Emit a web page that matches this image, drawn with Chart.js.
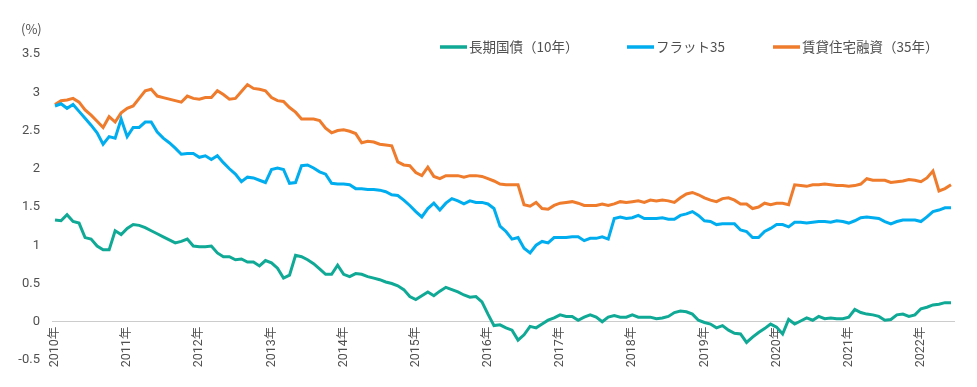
<!DOCTYPE html>
<html lang="ja">
<head>
<meta charset="utf-8">
<script src="https://cdn.jsdelivr.net/npm/chart.js@4.4.1/dist/chart.umd.min.js"></script>
<style>
  html, body { margin: 0; padding: 0; background: #fff; }
  #wrap { width: 977px; height: 387px; position: relative; }
</style>
</head>
<body>
<div id="wrap"><canvas id="myChart"></canvas></div>
<script>
(function () {
    'use strict';

    // ── Data (monthly, Jan 2010 – Jun 2022) ───────────────────────────────────
    const YEARS = ['2010', '2011', '2012', '2013', '2014', '2015', '2016',
                   '2017', '2018', '2019', '2020', '2021', '2022'];
    const YEAR_LABELS = YEARS.map(y => y + '年');
    const N_MONTHS = 150;

    const SERIES_NAMES = ['長期国債（10年）', 'フラット35', '賃貸住宅融資（35年）'];

    const jgb10 = [
        1.33, 1.32, 1.40, 1.31, 1.29, 1.10, 1.08, 0.99, 0.94, 0.94, 1.19, 1.14,
        1.22, 1.27, 1.26, 1.23, 1.19, 1.15, 1.11, 1.07, 1.03, 1.05, 1.08, 0.99,
        0.98, 0.98, 0.99, 0.90, 0.85, 0.85, 0.81, 0.82, 0.78, 0.78, 0.73, 0.80,
        0.77, 0.70, 0.57, 0.61, 0.87, 0.85, 0.81, 0.76, 0.69, 0.62, 0.62, 0.74,
        0.62, 0.59, 0.63, 0.62, 0.59, 0.57, 0.55, 0.52, 0.50, 0.47, 0.42, 0.33,
        0.29, 0.34, 0.39, 0.34, 0.40, 0.45, 0.42, 0.39, 0.35, 0.32, 0.33, 0.26,
        0.10, -0.05, -0.04, -0.08, -0.11, -0.24, -0.17, -0.06, -0.08, -0.03, 0.02, 0.05,
        0.09, 0.07, 0.07, 0.02, 0.06, 0.09, 0.06, 0.00, 0.06, 0.08, 0.06, 0.06,
        0.09, 0.06, 0.06, 0.06, 0.04, 0.05, 0.07, 0.12, 0.14, 0.13, 0.10, 0.02,
        -0.01, -0.03, -0.08, -0.05, -0.11, -0.15, -0.16, -0.27, -0.20, -0.14, -0.09, -0.03,
        -0.07, -0.16, 0.03, -0.03, 0.01, 0.05, 0.02, 0.07, 0.04, 0.05, 0.04, 0.04,
        0.06, 0.16, 0.12, 0.10, 0.09, 0.07, 0.02, 0.03, 0.09, 0.10, 0.07, 0.09,
        0.17, 0.19, 0.22, 0.23, 0.25, 0.25
    ];

    const flat35 = [
        2.82, 2.85, 2.79, 2.84, 2.75, 2.66, 2.57, 2.47, 2.32, 2.42, 2.40, 2.65,
        2.42, 2.54, 2.54, 2.61, 2.61, 2.48, 2.40, 2.34, 2.27, 2.19, 2.20, 2.20,
        2.15, 2.17, 2.12, 2.17, 2.08, 2.00, 1.93, 1.83, 1.89, 1.88, 1.85, 1.82,
        1.99, 2.01, 1.99, 1.81, 1.82, 2.04, 2.05, 2.01, 1.96, 1.93, 1.81, 1.80,
        1.80, 1.79, 1.74, 1.74, 1.73, 1.73, 1.72, 1.70, 1.66, 1.65, 1.59, 1.52,
        1.44, 1.37, 1.48, 1.55, 1.46, 1.55, 1.61, 1.58, 1.54, 1.58, 1.56, 1.56,
        1.54, 1.48, 1.25, 1.18, 1.08, 1.10, 0.96, 0.90, 1.00, 1.05, 1.03, 1.10,
        1.10, 1.10, 1.11, 1.11, 1.06, 1.09, 1.09, 1.11, 1.08, 1.35, 1.37, 1.35,
        1.36, 1.39, 1.35, 1.35, 1.35, 1.36, 1.34, 1.34, 1.39, 1.41, 1.44, 1.39,
        1.32, 1.31, 1.27, 1.28, 1.28, 1.28, 1.20, 1.18, 1.10, 1.10, 1.18, 1.22,
        1.27, 1.27, 1.24, 1.30, 1.30, 1.29, 1.30, 1.31, 1.31, 1.30, 1.32, 1.31,
        1.29, 1.32, 1.36, 1.37, 1.36, 1.35, 1.31, 1.28, 1.31, 1.33, 1.33, 1.33,
        1.31, 1.37, 1.44, 1.46, 1.49, 1.49
    ];

    const rental35 = [
        2.84, 2.89, 2.90, 2.92, 2.87, 2.77, 2.70, 2.62, 2.54, 2.68, 2.61, 2.73,
        2.79, 2.82, 2.92, 3.02, 3.04, 2.95, 2.93, 2.91, 2.89, 2.87, 2.95, 2.92,
        2.91, 2.93, 2.93, 3.02, 2.97, 2.91, 2.92, 3.01, 3.10, 3.05, 3.04, 3.02,
        2.93, 2.89, 2.88, 2.80, 2.74, 2.65, 2.65, 2.65, 2.63, 2.53, 2.47, 2.50,
        2.51, 2.49, 2.46, 2.34, 2.36, 2.35, 2.32, 2.31, 2.30, 2.09, 2.05, 2.04,
        1.95, 1.91, 2.02, 1.90, 1.87, 1.91, 1.91, 1.91, 1.89, 1.91, 1.91, 1.90,
        1.87, 1.84, 1.80, 1.79, 1.79, 1.79, 1.53, 1.51, 1.56, 1.48, 1.47, 1.52,
        1.55, 1.56, 1.57, 1.55, 1.52, 1.52, 1.52, 1.54, 1.52, 1.54, 1.57, 1.56,
        1.57, 1.58, 1.56, 1.59, 1.58, 1.59, 1.58, 1.56, 1.62, 1.67, 1.69, 1.66,
        1.62, 1.59, 1.57, 1.61, 1.62, 1.59, 1.54, 1.54, 1.48, 1.50, 1.55, 1.53,
        1.55, 1.55, 1.53, 1.79, 1.78, 1.77, 1.79, 1.79, 1.80, 1.79, 1.78, 1.78,
        1.77, 1.78, 1.80, 1.87, 1.85, 1.85, 1.85, 1.82, 1.83, 1.84, 1.86, 1.85,
        1.83, 1.88, 1.97, 1.71, 1.74, 1.79
    ];

    // Monthly categories "2010-01" ... ; only January gets a tick label
    const months = [];
    for (let i = 0; i < N_MONTHS; i++) {
        const y = YEARS[Math.floor(i / 12)];
        const m = String(i % 12 + 1).padStart(2, '0');
        months.push(y + '-' + m);
    }

    // ── Styling ────────────────────────────────────────────────────────────────
    const COLORS    = ['#0fa996', '#00adee', '#ef7b2c'];
    const TEXT_GRAY = '#505050';
    const NUM_FONT  = 'Roboto, "Noto Sans CJK JP", sans-serif';
    const JP_FONT   = '"Noto Sans CJK JP", "Noto Sans", sans-serif';

    // legend swatch left edges (px), one per series
    const LEGEND_X = [440, 627, 773];

    // ── Plugin: legend row + "(%)" unit label ──────────────────────────────────
    const topLabelsPlugin = {
        id: 'topLabels',
        afterDraw(chart) {
            const { ctx } = chart;
            ctx.save();

            // unit label above the y axis
            ctx.font = '13px ' + JP_FONT;
            ctx.fillStyle = TEXT_GRAY;
            ctx.textAlign = 'left';
            ctx.textBaseline = 'middle';
            ctx.fillText('(%)', 21, 29);

            // legend: line swatch + text
            ctx.font = '13.5px ' + JP_FONT;
            const lineLen = 27, textGap = 2, rowY = 47;
            chart.data.datasets.forEach((d, i) => {
                const x = LEGEND_X[i];
                ctx.strokeStyle = d.borderColor;
                ctx.lineWidth = 3.5;
                ctx.beginPath();
                ctx.moveTo(x, rowY); ctx.lineTo(x + lineLen, rowY);
                ctx.stroke();
                ctx.fillStyle = TEXT_GRAY;
                ctx.fillText(d.label, x + lineLen + textGap, rowY);
            });

            ctx.restore();
        }
    };

    const makeSet = (label, data, color) => ({
        label: label,
        data: data,
        borderColor: color,
        backgroundColor: color,
        borderWidth: 3,
        pointRadius: 0,
        tension: 0,
        fill: false
    });

    // ── Chart ──────────────────────────────────────────────────────────────────
    const chart = new Chart(document.getElementById('myChart').getContext('2d'), {
        type: 'line',
        data: {
            labels: months,
            datasets: [
                makeSet(SERIES_NAMES[0], jgb10, COLORS[0]),
                makeSet(SERIES_NAMES[1], flat35, COLORS[1]),
                makeSet(SERIES_NAMES[2], rental35, COLORS[2])
            ]
        },
        options: {
            responsive: true,
            maintainAspectRatio: false,
            animation: false,
            layout: { padding: { top: 54, right: 23, bottom: 27, left: 12 } },
            plugins: {
                legend: { display: false },
                title: { display: false },
                tooltip: { enabled: false }
            },
            scales: {
                x: {
                    position: { y: 0 },
                    offset: true,
                    afterFit: (s) => { s.height = 0; },
                    grid: { display: false, drawTicks: false },
                    border: { display: true, color: '#cccccc', width: 1 },
                    ticks: {
                        autoSkip: false,
                        minRotation: 90,
                        maxRotation: 90,
                        padding: 5,
                        color: TEXT_GRAY,
                        font: { family: NUM_FONT, size: 12.5 },
                        callback: (_, idx) => idx % 12 === 0 ? YEAR_LABELS[idx / 12] : ''
                    }
                },
                y: {
                    min: -0.5,
                    max: 3.5,
                    afterFit: (s) => { s.width = 40; },
                    grid: { display: false, drawTicks: false },
                    border: { display: false },
                    ticks: {
                        stepSize: 0.5,
                        padding: 12,
                        color: TEXT_GRAY,
                        font: { family: NUM_FONT, size: 13 },
                        callback: (v) => String(Math.round(v * 10) / 10)
                    }
                }
            }
        },
        plugins: [topLabelsPlugin]
    });
}());
</script>
</body>
</html>
